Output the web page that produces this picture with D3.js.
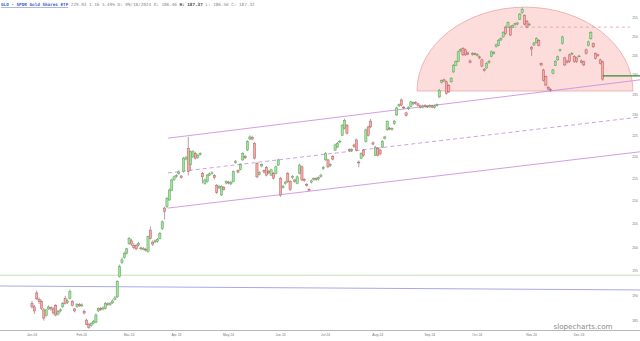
<!DOCTYPE html>
<html><head><meta charset="utf-8">
<script src="https://cdn.jsdelivr.net/npm/d3@7"></script>
<style>html,body{margin:0;padding:0;background:#fff;}svg{display:block;}</style>
</head><body>
<svg id="chart" width="640" height="341"></svg>
<script>
const months = ["Jan 24","Feb 24","Mar 24","Apr 24","May 24","Jun 24","Jul 24","Aug 24","Sep 24","Oct 24","Nov 24","Dec 24"];
const monthIdx = [0,21,41,61,83,105,124,146,168,188,211,231];
const yTicks = [185,190,195,200,205,210,215,220,225,230,235,240,245,250,255];

const open = [188.5,187.8,190.6,189.3,188.9,187.2,186.1,187.4,187.7,187.4,
188.1,186.4,187.0,187.9,189.5,188.7,189.5,188.9,187.4,187.9,
188.3,188.0,186.9,185.2,184.4,184.1,184.6,184.8,187.0,187.5,
187.4,187.5,188.4,188.3,188.6,189.3,189.8,193.9,196.8,197.9,
198.8,200.8,201.4,200.4,200.4,200.5,199.9,199.7,199.6,199.1,
203.7,201.1,201.2,201.3,201.9,204.0,208.5,208.8,210.3,212.5,
214.9,215.6,216.3,215.7,216.7,219.6,222.1,218.3,220.1,220.9,
220.0,220.7,216.3,214.0,214.4,215.9,216.3,215.8,213.6,213.0,
211.4,213.1,214.1,214.3,213.9,214.4,218.8,216.9,217.2,219.4,
220.2,221.7,224.3,224.7,223.3,218.6,216.1,218.0,216.9,217.7,
216.8,215.9,216.3,216.3,218.2,215.2,213.1,214.0,216.3,214.4,
215.3,214.8,214.0,216.3,217.8,214.9,213.8,212.7,214.3,214.9,
215.1,215.0,215.6,217.4,219.4,219.4,218.1,220.2,221.7,222.4,
223.6,225.2,226.9,227.6,221.8,221.6,222.9,224.1,218.9,219.8,
221.7,223.7,227.2,228.6,223.4,220.5,222.1,221.7,222.4,224.5,
226.5,226.9,226.6,228.0,230.1,232.3,233.8,232.0,230.6,231.6,
232.2,232.8,233.2,232.8,232.3,232.0,232.4,232.2,232.1,232.3,
231.9,232.4,234.5,238.2,238.8,238.3,237.4,238.3,240.8,242.5,
243.5,246.2,246.9,246.5,245.7,243.6,245.3,245.5,245.1,244.7,
243.9,241.4,241.8,243.2,244.8,245.6,247.4,247.6,249.1,249.9,
252.5,252.5,252.5,252.5,253.2,253.3,254.6,256.4,255.6,254.1,
253.1,247.2,247.8,248.4,249.0,242.9,241.3,239.6,236.9,236.4,
240.4,242.5,243.9,246.3,248.1,244.4,243.6,245.2,245.4,244.8,
244.4,244.8,243.6,243.4,246.5,247.6,249.4,248.1,245.5,245.2,
243.9,243.4];
const high = [189.0,188.2,191.1,189.7,189.2,187.6,187.4,188.1,187.9,187.7,
188.4,187.2,187.5,188.8,190.0,189.3,191.3,189.2,187.6,188.6,
188.6,188.5,187.3,185.5,184.6,184.8,185.2,186.5,187.7,187.8,
187.9,188.8,188.7,188.8,189.3,190.0,193.2,196.4,197.9,199.1,
199.9,202.2,201.8,200.9,200.7,201.2,200.2,200.1,199.9,202.5,
204.5,201.5,201.7,202.0,203.3,205.8,208.8,211.0,212.9,215.1,
215.8,216.1,217.0,215.9,220.1,220.3,224.8,221.6,221.7,221.3,
220.8,221.2,216.6,215.1,216.2,216.5,216.8,216.1,213.9,213.6,
213.6,213.4,214.7,214.6,214.6,217.0,219.4,217.2,218.6,221.2,
220.5,224.0,225.2,225.1,223.6,218.9,216.8,218.6,217.2,218.0,
217.1,217.4,216.6,218.1,219.7,215.5,213.7,214.6,216.6,214.7,
215.9,215.1,215.8,218.5,218.1,215.2,214.1,212.9,214.9,215.4,
215.4,215.6,216.2,218.0,221.2,219.7,218.6,220.5,223.2,223.6,
224.1,227.9,229.2,227.9,222.1,222.1,223.2,224.4,219.3,221.2,
222.0,226.8,227.5,229.1,223.7,222.7,222.4,222.0,224.0,225.1,
228.8,227.2,227.1,228.9,232.1,232.9,234.1,232.3,230.9,232.2,
233.6,233.4,233.5,233.1,232.6,232.6,232.7,232.5,232.7,232.6,
232.6,232.9,236.5,238.9,239.1,238.6,237.7,239.5,242.8,243.8,
246.3,246.9,247.2,246.8,246.0,244.0,245.9,245.8,245.6,245.0,
244.2,241.8,243.3,243.9,246.3,246.2,248.1,249.3,249.8,251.4,
252.9,254.0,252.9,253.2,253.7,253.9,256.3,257.8,255.9,254.4,
253.6,247.5,248.6,249.8,249.3,243.2,241.6,239.9,237.3,236.7,
241.6,243.8,245.0,246.8,250.2,244.7,243.9,245.5,245.9,245.1,
244.7,245.2,244.0,243.7,246.8,248.9,251.4,248.4,245.8,245.5,
244.2,243.7];
const low = [187.5,186.4,189.2,188.4,187.2,185.1,185.9,187.2,187.0,186.3,
185.9,186.1,186.7,187.6,188.3,188.4,189.3,187.9,186.7,187.6,
187.8,187.8,186.3,184.2,183.5,183.9,184.4,184.6,186.8,187.0,
187.1,187.3,188.0,188.0,188.4,189.1,189.6,193.7,196.5,197.6,
198.5,200.5,200.3,199.6,199.4,200.2,199.4,199.4,199.1,198.9,
201.7,200.3,200.9,201.0,201.7,203.7,206.0,208.5,210.1,212.3,
214.6,215.3,216.0,215.1,216.5,219.3,215.8,216.9,219.8,219.5,
219.7,220.4,214.0,213.7,214.2,215.7,216.0,214.9,211.6,212.7,
211.2,212.4,213.8,213.8,213.6,214.2,218.5,216.3,217.0,219.2,
219.6,221.5,224.0,224.0,219.5,215.2,215.8,217.7,216.3,215.6,
216.1,215.7,214.9,216.1,218.0,211.0,212.8,213.7,214.1,212.3,
215.0,214.2,213.8,216.1,214.5,214.4,213.3,212.3,214.0,214.6,
214.6,214.7,215.3,217.1,219.2,217.5,217.8,219.3,221.5,222.2,
223.3,225.0,226.6,225.4,221.3,221.3,222.2,221.4,217.7,219.6,
220.2,223.5,224.9,226.9,222.8,220.3,220.2,220.5,222.2,224.2,
226.3,226.4,226.3,227.7,229.9,232.0,232.2,231.5,229.7,231.3,
232.0,232.5,232.6,232.1,231.7,231.7,231.9,231.8,231.8,231.7,
231.6,232.1,234.3,237.9,238.2,235.1,235.5,238.1,240.6,242.3,
243.3,245.9,244.9,244.9,245.1,243.0,245.0,245.1,244.8,244.1,
242.0,240.9,241.6,242.9,244.6,245.3,247.1,247.4,248.8,249.7,
250.4,252.3,250.1,252.2,252.9,253.0,254.4,256.1,253.0,252.2,
252.8,244.9,247.5,248.2,247.4,242.3,238.4,237.2,236.2,235.9,
240.2,242.3,243.7,246.0,247.9,242.3,243.0,243.1,245.1,243.1,
243.1,244.5,243.0,242.3,245.3,247.4,249.2,247.0,244.0,244.7,
242.7,238.6];
const close = [187.8,187.0,189.4,188.9,187.5,185.6,187.2,187.8,187.4,186.6,
186.2,186.9,187.2,188.5,188.5,189.0,190.9,188.1,187.0,188.3,
188.0,188.2,186.6,184.4,183.8,184.5,184.9,186.2,187.5,187.3,
187.6,188.5,188.3,188.5,189.0,189.6,192.9,196.0,197.4,198.7,
199.7,201.9,200.7,200.0,199.7,200.8,199.7,199.8,199.5,202.3,
201.9,200.7,201.4,201.7,203.0,205.5,207.7,210.6,212.5,214.8,
215.5,215.8,216.6,215.4,219.8,219.9,216.7,221.3,221.3,219.8,
220.5,220.9,215.5,214.8,215.9,216.2,216.4,215.3,212.0,213.3,
213.3,212.6,214.4,214.1,214.3,216.7,219.1,216.6,218.3,220.9,
219.9,223.7,224.8,224.3,219.8,215.5,216.5,218.3,216.6,215.9,
216.4,217.1,215.2,217.8,219.4,211.4,213.4,214.3,214.4,212.6,
215.6,214.5,215.5,218.2,214.8,214.7,213.6,212.5,214.6,215.1,
214.9,215.3,215.9,217.7,220.9,217.8,218.3,219.6,222.9,223.3,
223.8,227.6,228.8,225.7,221.6,221.8,222.6,221.7,218.7,220.9,
220.5,226.5,225.2,227.2,223.1,222.4,220.5,220.8,223.7,224.8,
228.5,226.7,226.8,228.6,231.8,232.6,232.5,231.8,230.0,231.9,
233.3,233.1,232.9,232.4,232.0,232.3,232.2,232.1,232.4,232.0,
232.3,232.6,236.2,238.6,238.5,235.4,235.8,239.2,242.5,243.5,
246.0,246.6,245.2,245.2,245.4,243.3,245.6,245.4,245.3,244.4,
242.3,241.2,243.0,243.5,246.0,245.8,247.8,249.0,249.5,251.1,
250.8,253.7,250.4,252.9,253.4,253.6,256.0,257.3,253.3,252.5,
253.3,246.7,248.3,249.5,247.7,242.6,238.7,237.5,236.5,236.2,
241.3,243.5,244.7,246.5,249.9,242.6,243.3,243.5,245.6,243.5,
243.5,244.9,243.3,242.6,245.6,248.6,251.1,247.3,244.3,245.0,
243.0,239.0];

// drawn studies: [index, price] anchors
const channelUpper = [[57.4,224.5],[256.8,238.8]];
const channelMid   = [[57.4,216.4],[256.8,229.6]];
const channelLower = [[57.4,208.5],[256.8,221.3]];
const greenLevel = 194.2;
const blueLine = [[-13.5,192.0],[256.8,191.2]];
const arcShape = {center:208.2, left:162.6, right:253.8, base:236.0, top:257.9};
const dashLevel = {from:203.5, to:252.5, price:252.5};
const lastLevel = {from:241, to:256.8, price:239.8};

const header = "GLD - SPDR Gold Shares ETF";
const headerInfo = "229.93 1.16 5.49% D: 09/18/2024 O: 186.46";
const headerH = "H: 187.37";
const headerRest = "L: 186.56 C: 187.32";

const svg = d3.select("#chart");
const x = d3.scaleLinear().domain([0,231]).range([32,579]);
const y = d3.scaleLog().domain([255,185]).range([17.8,321.1]);

// half-ellipse
{
  const cx = x(arcShape.center), cy = y(arcShape.base);
  const rx = x(arcShape.right) - cx, ry = cy - y(arcShape.top);
  svg.append("path")
    .attr("d", `M${cx-rx},${cy} A${rx},${ry} 0 0 1 ${cx+rx},${cy} Z`)
    .attr("fill","#fddcdc")
    .attr("stroke","#eaa6a6").attr("stroke-width",0.8);
}

// bottom axis line
svg.append("line").attr("x1",0).attr("x2",640).attr("y1",330.5).attr("y2",330.5)
  .attr("stroke","#b8b8b8").attr("stroke-width",1);

// horizontal reference lines
svg.append("line").attr("x1",0).attr("x2",640)
  .attr("y1",y(greenLevel)).attr("y2",y(greenLevel))
  .attr("stroke","#bfe2b4").attr("stroke-width",1);
svg.append("line")
  .attr("x1",x(blueLine[0][0])).attr("y1",y(blueLine[0][1]))
  .attr("x2",x(blueLine[1][0])).attr("y2",y(blueLine[1][1]))
  .attr("stroke","#aaa8e8").attr("stroke-width",1);

// dashed level
svg.append("line").attr("x1",x(dashLevel.from)).attr("x2",x(dashLevel.to))
  .attr("y1",y(dashLevel.price)).attr("y2",y(dashLevel.price))
  .attr("stroke","#e39a9a").attr("stroke-width",0.8).attr("stroke-dasharray","3,3");

// channel
function seg(pts, dash){
  const l = svg.append("line")
    .attr("x1",x(pts[0][0])).attr("y1",y(pts[0][1]))
    .attr("x2",x(pts[1][0])).attr("y2",y(pts[1][1]))
    .attr("stroke","#c98be0").attr("stroke-width",0.85);
  if (dash) l.attr("stroke-dasharray","4,3");
}
seg(channelUpper,false); seg(channelMid,true); seg(channelLower,false);

// candles
const idx = d3.range(close.length);
const g = svg.append("g");
g.selectAll("line.w").data(idx).join("line")
  .attr("x1",i=>x(i)).attr("x2",i=>x(i))
  .attr("y1",i=>y(high[i])).attr("y2",i=>y(low[i]))
  .attr("stroke","#6a6a6a").attr("stroke-width",0.6);
g.selectAll("rect").data(idx).join("rect")
  .attr("x",i=>x(i)-1.1).attr("width",2.2)
  .attr("y",i=>y(Math.max(open[i],close[i])))
  .attr("height",i=>Math.max(0.8, Math.abs(y(open[i])-y(close[i]))))
  .attr("fill",i=>close[i]>=open[i]?"#a3e09e":"#f3aaaa")
  .attr("stroke",i=>close[i]>=open[i]?"#55a855":"#c25a5a")
  .attr("stroke-width",0.5);

// last level line
svg.append("line").attr("x1",x(lastLevel.from)).attr("x2",x(lastLevel.to))
  .attr("y1",y(lastLevel.price)).attr("y2",y(lastLevel.price))
  .attr("stroke","#2f8a2f").attr("stroke-width",1.4);

// right axis labels
svg.selectAll("text.yt").data(yTicks).join("text")
  .attr("x",635).attr("y",d=>y(d)+1.1).attr("text-anchor","middle")
  .attr("font-family","Liberation Sans, Arial, sans-serif").attr("font-size",3.4)
  .attr("fill","#777").text(d=>d);

// month labels
svg.selectAll("text.mt").data(months).join("text")
  .attr("x",(d,i)=>x(monthIdx[i])).attr("y",336).attr("text-anchor","middle")
  .attr("font-family","Liberation Sans, Arial, sans-serif").attr("font-size",3.4)
  .attr("fill","#777").text(d=>d);

// watermark
svg.append("text").attr("x",583).attr("y",328.5).attr("text-anchor","middle")
  .attr("font-family","DejaVu Sans, sans-serif").attr("font-size",7.2)
  .attr("fill","#8a8a8a").text("slopecharts.com");

// header
const ht = svg.append("text").attr("x",1).attr("y",6)
  .attr("font-family","DejaVu Sans Mono, monospace").attr("font-size",4.3).attr("fill","#888");
ht.append("tspan").attr("fill","#3a5bd0").attr("text-decoration","underline").attr("font-weight","bold").text(header);
ht.append("tspan").text(" " + headerInfo + " ");
ht.append("tspan").attr("font-weight","bold").attr("fill","#444").text(headerH);
ht.append("tspan").text(" " + headerRest);
</script>
</body></html>
